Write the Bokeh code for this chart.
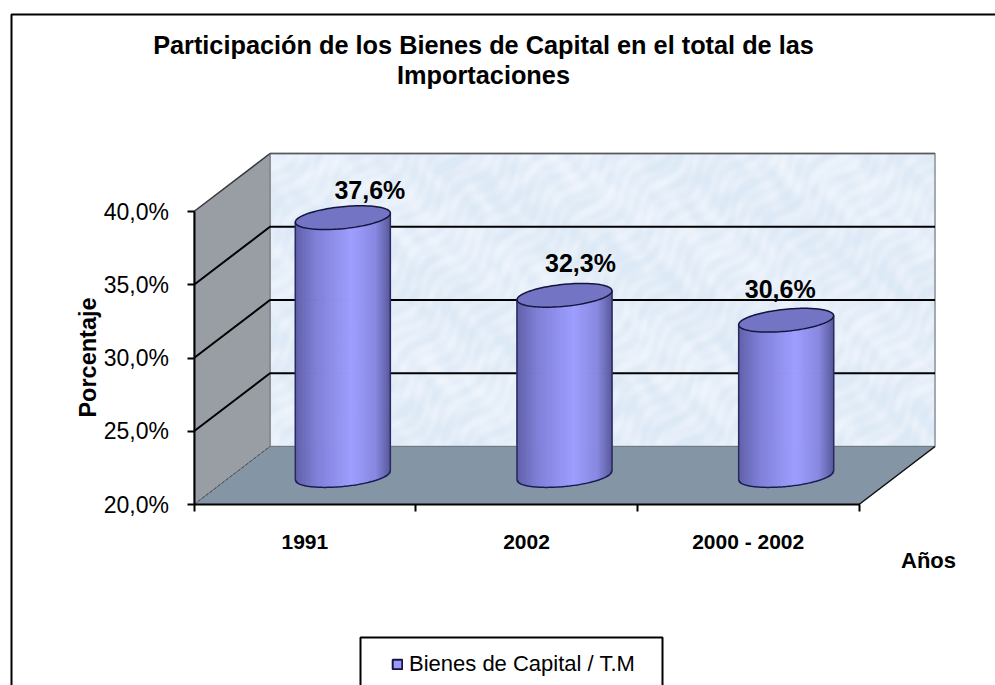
from bokeh.plotting import figure
from bokeh.models import (Range1d, LinearAxis, FixedTicker, Label, BoxAnnotation, Legend, LegendItem)
from bokeh.core.properties import value
from bokeh.embed import file_html
from bokeh.resources import INLINE
import numpy as np

categories = ["1991", "2002", "2000 - 2002"]
values = [37.6, 32.3, 30.6]
y_ticks = [20, 25, 30, 35, 40]
y_labels = ["20,0%", "25,0%", "30,0%", "35,0%", "40,0%"]
title_lines = ["Participación de los Bienes de Capital en el total de las", "Importaciones"]
series_name = "Bienes de Capital / T.M"

W, H = 995, 685
X0, Y0 = 193.5, 504         # plot origin inside the figure, px
PX_X, PX_Y = 221.67, 14.65  # px per category, px per percentage point
DX, DY = 76 / PX_X, 58 / PX_Y  # depth of the 3D box, data units
RAD = 47.5 / PX_X           # cylinder radius
ELL_B, ELL_K = 11 / PX_Y, 4.5 / PX_Y  # top ellipse half-height, tilt
FONT = "Liberation Sans"
n = len(categories)
ymin, ymax = y_ticks[0], y_ticks[-1]

p = figure(width=W, height=H, output_backend="svg", toolbar_location=None,
           x_range=Range1d(-X0 / PX_X, (W - X0) / PX_X),
           y_range=Range1d(ymin - (H - Y0) / PX_Y, ymin + Y0 / PX_Y),
           min_border=0, x_axis_type=None, y_axis_type=None, outline_line_color=None)
p.grid.visible = False

# back wall: soft marbled background (decorative texture made of sines)
ty, tx = np.mgrid[0:150, 0:340]
tex = (np.sin(tx * 0.31 + 2.3 * np.sin(ty * 0.19 + tx * 0.07))
       + np.sin(ty * 0.37 + 2.7 * np.sin(tx * 0.17 - ty * 0.05))
       + np.sin(tx * 0.73 - ty * 0.61 + 3.0 * np.sin(ty * 0.11 + tx * 0.13))
       + np.sin(tx * 0.05 + ty * 0.09)) / 4
tex = np.clip(0.42 + 0.55 * tex, 0, 1)
rgba = np.zeros(tex.shape, dtype=np.uint32)
view = rgba.view(np.uint8).reshape(tex.shape + (4,))
view[..., 0] = (0xDC + (0xF2 - 0xDC) * tex).astype(np.uint8)
view[..., 1] = (0xE9 + (0xF6 - 0xE9) * tex).astype(np.uint8)
view[..., 2] = (0xF6 + (0xFD - 0xF6) * tex).astype(np.uint8)
view[..., 3] = 255
p.image_rgba(image=[rgba], x=DX, y=ymin + DY, dw=n, dh=ymax - ymin)
p.patch([DX, n + DX, n + DX, DX], [ymin + DY, ymin + DY, ymax + DY, ymax + DY],
        fill_color=None, line_color="#8A8F96", line_width=1.5)
p.patch([0, DX, DX, 0], [ymin, ymin + DY, ymax + DY, ymax],
        fill_color="#999EA4", line_color="#777B80", line_width=1)
p.patch([0, n, n + DX, DX], [ymin, ymin, ymin + DY, ymin + DY],
        fill_color="#8496A6", line_color="#6F7A85", line_width=1)
p.line([DX, n + DX], [ymax + DY, ymax + DY], line_color="#55595E", line_width=1.5)
p.line([0, DX], [ymin, ymin + DY], line_color="#4A4D52", line_width=1, line_dash="3 2")
p.line([0, DX], [ymax, ymax + DY], line_color="#3A3D42", line_width=1.5)
p.line([n, n + DX], [ymin, ymin + DY], line_color="#111111", line_width=1.5)

# gridlines
for t in y_ticks[1:-1]:
    p.line([0, DX, n + DX], [t, t + DY, t + DY], line_color="#000000", line_width=2)

# cylinders
stops_u = [-1.0, -0.55, 0.2, 0.7, 1.0]
stops_c = [(0x5F, 0x5F, 0xA8), (0x80, 0x80, 0xD8), (0x9E, 0x9E, 0xFF), (0x88, 0x88, 0xE0), (0x5A, 0x5A, 0x9E)]
strip_u = np.linspace(-1, 1, 49)
theta = np.linspace(0, 2 * np.pi, 121)
for i, v in enumerate(values):
    cx = i + 0.5 + DX / 2
    base = ymin + DY / 2
    top = v + DY / 2
    um = (strip_u[:-1] + strip_u[1:]) / 2
    cols = ["#%02x%02x%02x" % tuple(int(round(np.interp(u, stops_u, [c[k] for c in stops_c]))) for k in range(3)) for u in um]
    lower = base + ELL_K * um - ELL_B * np.sqrt(1 - um ** 2)
    uppr = top + ELL_K * um
    p.quad(left=cx + RAD * strip_u[:-1], right=cx + RAD * strip_u[1:], bottom=lower, top=uppr,
           fill_color=cols, line_color=cols, line_width=1)
    arc = np.linspace(-1, 1, 61)
    p.line(cx + RAD * arc, base + ELL_K * arc - ELL_B * np.sqrt(1 - arc ** 2), line_color="#1A1A50", line_width=1.5)
    p.line([cx - RAD, cx - RAD], [base - ELL_K, top - ELL_K], line_color="#2A2A60", line_width=1.5)
    p.line([cx + RAD, cx + RAD], [base + ELL_K, top + ELL_K], line_color="#2A2A60", line_width=1.5)
    p.patch(cx + RAD * np.cos(theta), top + ELL_K * np.cos(theta) + ELL_B * np.sin(theta),
            fill_color="#7474C4", line_color="#14143C", line_width=1.5)

# data labels (hand-placed in the original, so they have their own offsets)
label_dx = [27, 16, -6]
label_dy = [28, 32, 31]
for i, v in enumerate(values):
    p.text([i + 0.5 + DX / 2], [v + DY / 2], text=[("%.1f%%" % v).replace(".", ",")],
           x_offset=label_dx[i], y_offset=-label_dy[i], text_align="center", text_baseline="middle",
           text_font=value(FONT), text_font_style="bold", text_font_size="25px", text_color="#000000")

# axes
yax = LinearAxis(fixed_location=0, bounds=(ymin, ymax), ticker=FixedTicker(ticks=y_ticks),
                 major_label_overrides=dict(zip(y_ticks, y_labels)),
                 major_label_text_font=FONT, major_label_text_font_size="23px", major_label_text_color="#000000",
                 major_tick_in=0, major_tick_out=7, major_tick_line_width=2, major_tick_line_color="#000000",
                 minor_tick_line_color=None, axis_line_color="#000000", axis_line_width=2, major_label_standoff=18)
p.add_layout(yax, "left")
tick_pos = list(range(n + 1))
xax = LinearAxis(fixed_location=ymin, bounds=(0, n), ticker=FixedTicker(ticks=tick_pos),
                 major_label_overrides={t: "" for t in tick_pos},
                 major_tick_in=0, major_tick_out=7, major_tick_line_width=2, major_tick_line_color="#000000",
                 minor_tick_line_color=None, axis_line_color="#000000", axis_line_width=2)
p.add_layout(xax, "below")
cat_pos = [i + 0.5 for i in range(n)]
xcat = LinearAxis(fixed_location=ymin, ticker=FixedTicker(ticks=cat_pos),
                  major_label_overrides=dict(zip(cat_pos, categories)),
                  major_label_text_font=FONT, major_label_text_font_style="bold", major_label_text_font_size="21px",
                  major_label_text_color="#000000", major_tick_in=0, major_tick_out=0,
                  minor_tick_line_color=None, axis_line_color=None, major_label_standoff=25)
p.add_layout(xcat, "below")

# texts in canvas position
def lab(txt, x, y, size, bold=True, angle=0.0, align="center"):
    p.add_layout(Label(x=x, y=H - y, x_units="screen", y_units="screen", text=txt, text_font=FONT,
                       text_font_size=size, text_font_style="bold" if bold else "normal", angle=angle,
                       text_align=align, text_baseline="middle", text_color="#000000"))

lab(title_lines[0], 483, 44, "25.3px")
lab(title_lines[1], 483, 74, "25.3px")
lab("Porcentaje", 87, 357, "23.5px", angle=np.pi / 2)
lab("Años", 928, 560, "22px")

# chart border (left and top only reach the picture; right and bottom run off it)
p.add_layout(BoxAnnotation(left=11, right=W + 20, top=H - 14, bottom=-20, left_units="screen", right_units="screen",
                           top_units="screen", bottom_units="screen", fill_color=None,
                           line_color="#000000", line_alpha=1, line_width=2))
# legend box, cut by the bottom edge of the picture
p.add_layout(BoxAnnotation(left=360, right=662, top=H - 637, bottom=-20, left_units="screen", right_units="screen",
                           top_units="screen", bottom_units="screen", fill_color=None,
                           line_color="#000000", line_alpha=1, line_width=2))

# legend
sw = p.quad(left=[np.nan], right=[np.nan], top=[np.nan], bottom=[np.nan],
            fill_color="#9999FF", line_color="#14143C", line_width=2)
leg = Legend(items=[LegendItem(label=series_name, renderers=[sw])], location=(391, 8),
             orientation="horizontal", border_line_color=None, background_fill_alpha=0,
             label_text_font=FONT, label_text_font_size="22px", label_text_color="#000000",
             glyph_width=12, glyph_height=12, padding=2, margin=0, label_standoff=6, spacing=0)
p.add_layout(leg, "center")

open("out.html", "w").write(file_html(p, INLINE))
